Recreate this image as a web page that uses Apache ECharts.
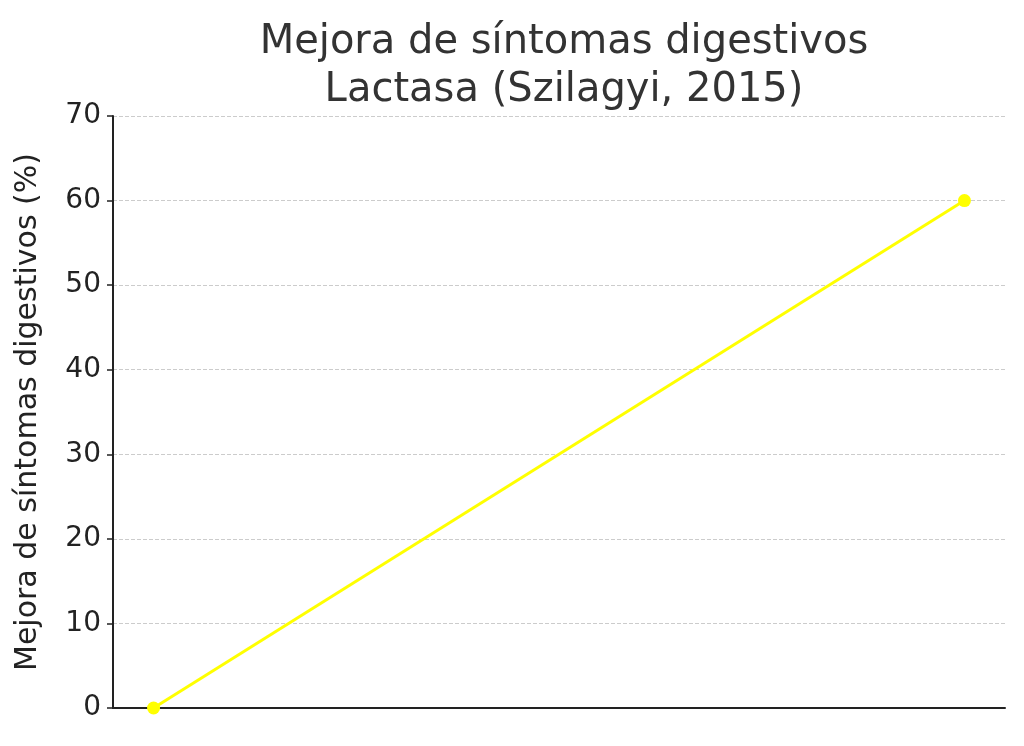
<!DOCTYPE html>
<html><head><meta charset="utf-8">
<script src="https://cdn.jsdelivr.net/npm/echarts@6/dist/echarts.min.js"></script>
<style>html,body{margin:0;padding:0;background:#fff}#c{width:1024px;height:746px}</style>
</head><body><div id="c"></div>
<script>
const xValues = [0, 1];
const yValues = [0, 60];
const yTicks = [0, 10, 20, 30, 40, 50, 60, 70];
const chart = echarts.init(document.getElementById('c'));
chart.setOption({
  animation: false,
  textStyle: {fontFamily: 'DejaVu Sans'},
  title: {
    text: 'Mejora de síntomas digestivos\nLactasa (Szilagyi, 2015)',
    left: 559, top: 14, textAlign: 'center',
    textStyle: {fontSize: 40, fontWeight: 'normal', color: '#333', lineHeight: 48, fontFamily: 'DejaVu Sans'}
  },
  grid: {left: 113, right: 19, top: 116, bottom: 38},
  xAxis: {
    type: 'value', min: -0.05, max: 1.05,
    axisLabel: {show: false}, axisTick: {show: false}, splitLine: {show: false},
    axisLine: {lineStyle: {color: '#222', width: 2}}
  },
  yAxis: {
    type: 'value', min: 0, max: 70, interval: 10,
    name: 'Mejora de síntomas digestivos (%)', nameLocation: 'middle', nameGap: 70,
    nameTextStyle: {fontSize: 30, color: '#222'},
    axisLabel: {fontSize: 28, color: '#222', margin: 12, formatter: v => yTicks.includes(v) ? String(v) : ''},
    axisTick: {show: true, length: 6, lineStyle: {color: '#222', width: 1.5}},
    axisLine: {show: true, onZero: false, lineStyle: {color: '#222', width: 2}},
    splitLine: {lineStyle: {type: 'dashed', color: '#ccc', width: 1}}
  },
  series: [{
    type: 'line',
    data: xValues.map((x, i) => [x, yValues[i]]),
    lineStyle: {color: '#ffff00', width: 3},
    itemStyle: {color: '#ffff00'},
    symbol: 'circle', symbolSize: 13, clip: false
  }]
});
</script></body></html>
